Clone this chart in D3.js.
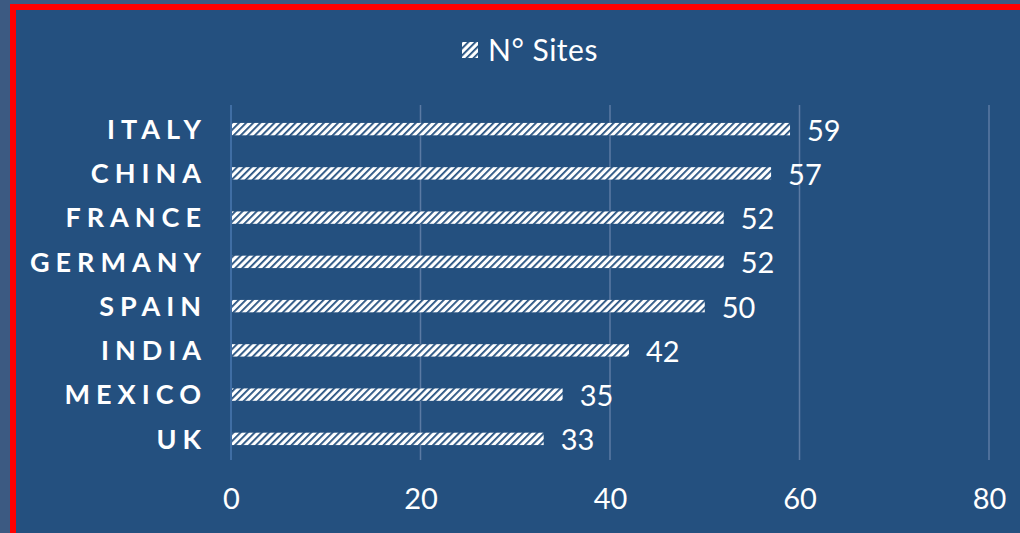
<!DOCTYPE html>
<html>
<head>
<meta charset="utf-8">
<script src="https://cdn.jsdelivr.net/npm/d3@7"></script>
<style>
  html, body { margin: 0; padding: 0; background: #3c5a82; }
  svg { display: block; }
</style>
</head>
<body>
<svg id="svg"></svg>
<script>
// chart data
const countries = ["ITALY", "CHINA", "FRANCE", "GERMANY", "SPAIN", "INDIA", "MEXICO", "UK"];
const sites = [59, 57, 52, 52, 50, 42, 35, 33];
const xTicks = [0, 20, 40, 60, 80];
const seriesName = "N° Sites";

const width = 1020;
const height = 533;
const bg = "#24507f";

let svg = d3.select("#svg")
    .attr("width", width)
    .attr("height", height);

// outer grey, red frame, inner panel
svg.append("rect").attr("width", width).attr("height", height).attr("fill", "#3c5a82");
svg.append("rect")
    .attr("x", 13).attr("y", 7)
    .attr("width", width + 20).attr("height", height + 20)
    .attr("fill", bg)
    .attr("stroke", "#ff0000")
    .attr("stroke-width", 6);

// hatch pattern
const defs = svg.append("defs");
const pat = defs.append("pattern")
    .attr("id", "hatch")
    .attr("patternUnits", "userSpaceOnUse")
    .attr("width", 5).attr("height", 5)
    .attr("patternTransform", "rotate(45)");
pat.append("rect").attr("width", 5).attr("height", 5).attr("fill", "#ffffff");
pat.append("rect").attr("x", 0).attr("width", 1.8).attr("height", 5).attr("fill", bg);

const xScale = d3.scaleLinear()
    .domain([0, 80])
    .range([231, 989]);

const yScale = d3.scaleBand()
    .domain(countries)
    .range([107, 461])
    .paddingInner(0.72)
    .paddingOuter(0.36);

// gridlines
svg.append("g")
    .selectAll("line")
    .data(xTicks)
    .join("line")
    .attr("x1", d => xScale(d)).attr("x2", d => xScale(d))
    .attr("y1", 105).attr("y2", 460)
    .attr("stroke", d => d === 0 ? "#4a78b0" : "#5b7aa3")
    .attr("stroke-width", 1.5);

// bars
const data = countries.map((c, i) => ({ country: c, value: sites[i] }));
svg.append("g")
    .selectAll("rect")
    .data(data)
    .join("rect")
    .attr("x", xScale(0) + 1)
    .attr("y", d => yScale(d.country))
    .attr("width", d => xScale(d.value) - xScale(0) - 1)
    .attr("height", yScale.bandwidth())
    .attr("fill", "url(#hatch)");

// value labels
svg.append("g")
    .selectAll("text")
    .data(data)
    .join("text")
    .attr("x", d => xScale(d.value) + 17)
    .attr("y", d => yScale(d.country) + yScale.bandwidth() / 2 + 1)
    .attr("dy", "0.36em")
    .attr("fill", "#ffffff")
    .style("font-family", "Lato, sans-serif")
    .style("font-size", "29px")
    .text(d => d.value);

// category labels
svg.append("g")
    .selectAll("text")
    .data(countries)
    .join("text")
    .attr("x", 207)
    .attr("y", d => yScale(d) + yScale.bandwidth() / 2)
    .attr("dy", "0.36em")
    .attr("text-anchor", "end")
    .attr("fill", "#ffffff")
    .style("font-family", "Lato, sans-serif")
    .style("font-weight", "bold")
    .style("font-size", "27px")
    .style("letter-spacing", "6px")
    .text(d => d);

// x axis
const xAxis = svg.append("g")
    .attr("transform", "translate(0,460)")
    .call(d3.axisBottom(xScale).tickValues(xTicks).tickSize(0).tickPadding(28));
xAxis.select(".domain").remove();
xAxis.selectAll("text")
    .attr("fill", "#ffffff")
    .style("font-family", "Lato, sans-serif")
    .style("font-size", "29px");

// legend
const legend = svg.append("g");
legend.append("rect")
    .attr("x", 462).attr("y", 42)
    .attr("width", 16).attr("height", 16)
    .attr("fill", "url(#hatch)");
legend.append("text")
    .attr("x", 488).attr("y", 50)
    .attr("dy", "0.36em")
    .attr("fill", "#ffffff")
    .style("font-family", "Lato, sans-serif")
    .style("font-size", "30px")
    .style("letter-spacing", "0.5px")
    .text(seriesName);
</script>
</body>
</html>
